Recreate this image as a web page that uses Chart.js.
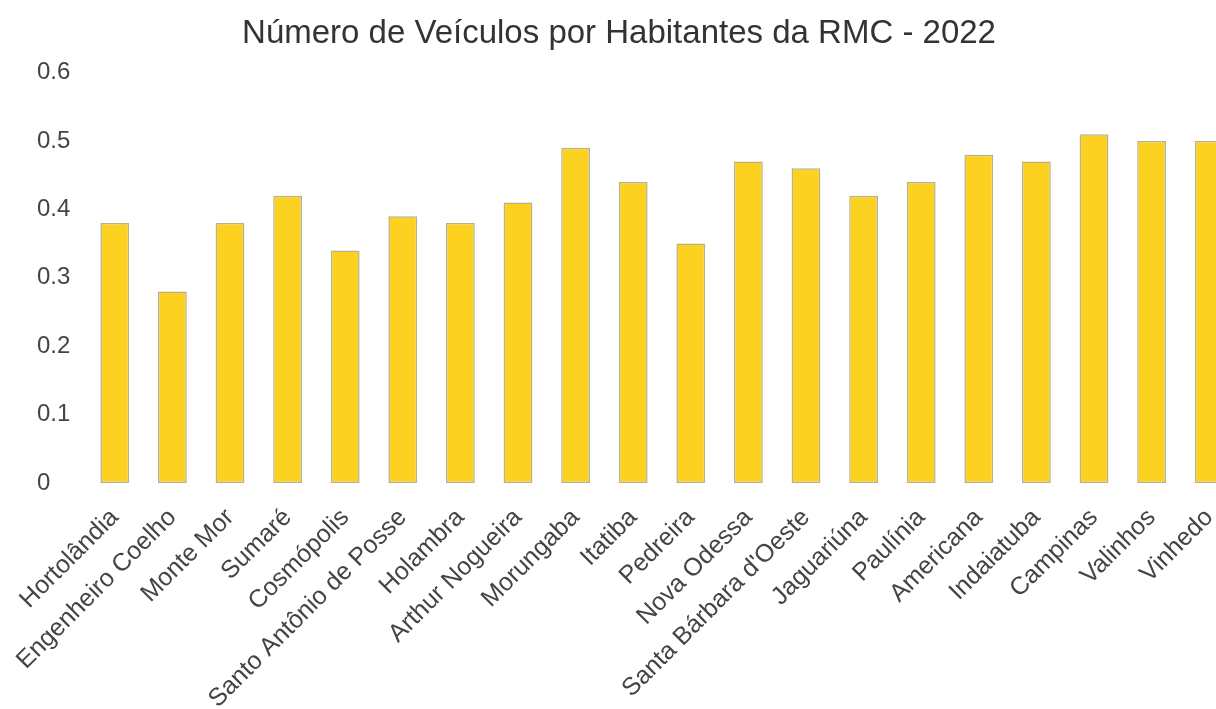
<!DOCTYPE html>
<html lang="pt-BR">
<head>
<meta charset="utf-8">
<title>Veículos por Habitantes - RMC 2022</title>
<script src="https://cdn.jsdelivr.net/npm/chart.js@4.4.1/dist/chart.umd.min.js"></script>
<style>
  html, body { margin: 0; padding: 0; background: #fff; overflow: hidden; }
  #wrap { width: 1240px; height: 709px; }
</style>
</head>
<body>
<div id="wrap"><canvas id="chart" width="1240" height="709"></canvas></div>
<script>
// municípios da RMC
const cidades = [
  "Hortolândia", "Engenheiro Coelho", "Monte Mor", "Sumaré", "Cosmópolis",
  "Santo Antônio de Posse", "Holambra", "Arthur Nogueira", "Morungaba", "Itatiba",
  "Pedreira", "Nova Odessa", "Santa Bárbara d'Oeste", "Jaguariúna", "Paulínia",
  "Americana", "Indaiatuba", "Campinas", "Valinhos", "Vinhedo"
];

// veículos por habitante
const veiculosPorHab = [
  0.38, 0.28, 0.38, 0.42, 0.34,
  0.39, 0.38, 0.41, 0.49, 0.44,
  0.35, 0.47, 0.46, 0.42, 0.44,
  0.48, 0.47, 0.51, 0.50, 0.50
];

const yMin = 0;
const yMax = 0.6;
const yStep = 0.1;

const titulo = "Número de Veículos por Habitantes da RMC - 2022";
const fonte = "'Liberation Sans', Arial, sans-serif";

// labels do eixo y alinhados à esquerda, um pouco para dentro
const yLabelInset = {
  id: "yLabelInset",
  afterLayout(chart) {
    chart.scales.y.left = 37;
  }
};

let ctx = document.getElementById("chart").getContext("2d");

window.myChart = new Chart(ctx, {
  type: "bar",
  data: {
    labels: cidades,
    datasets: [{
      label: "Veículos por habitante",
      data: veiculosPorHab,
      backgroundColor: "#fdd120",
      borderColor: "#b9b08c",
      borderWidth: 1.5,
      borderSkipped: false,
      categoryPercentage: 1.0,
      barPercentage: 0.5
    }]
  },
  options: {
    responsive: false,
    animation: false,
    layout: { padding: { left: 0, right: 2, top: 0, bottom: 0 } },
    plugins: {
      legend: { display: false },
      tooltip: { enabled: false },
      title: {
        display: true,
        text: titulo,
        color: "#333",
        font: { family: fonte, size: 33, weight: "normal" },
        padding: { top: 14, bottom: 19 }
      }
    },
    scales: {
      x: {
        grid: { display: false, drawTicks: false },
        border: { display: false },
        ticks: {
          color: "#444",
          font: { family: fonte, size: 25 },
          minRotation: 45,
          maxRotation: 45,
          autoSkip: false,
          padding: 20
        },
        afterFit(scale) {
          scale.height = 226;
          scale.paddingRight = 0; // a última barra pode passar da borda
        }
      },
      y: {
        min: yMin,
        max: yMax,
        grid: { display: false, drawTicks: false },
        border: { display: false },
        ticks: {
          stepSize: yStep,
          color: "#444",
          font: { family: fonte, size: 24 },
          crossAlign: "far"
        },
        afterFit(scale) { scale.width = 86; }
      }
    }
  },
  plugins: [yLabelInset]
});
</script>
</body>
</html>
